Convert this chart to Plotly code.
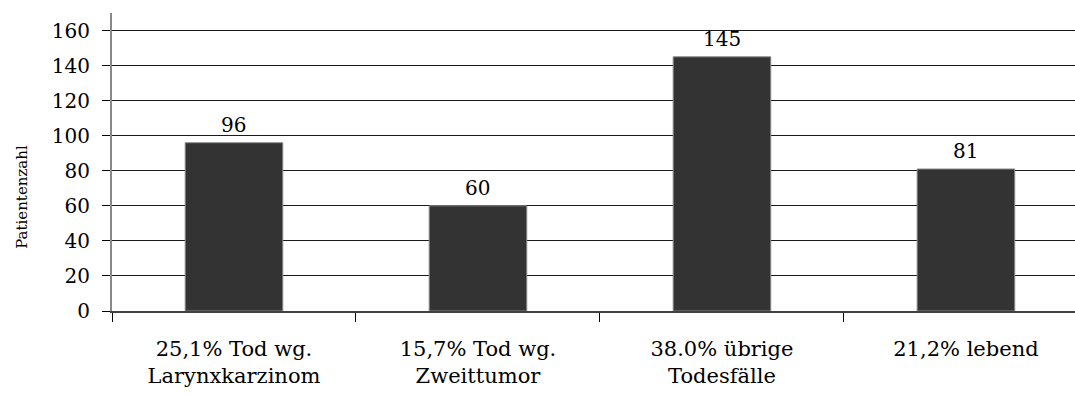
import plotly.graph_objects as go

# Patient outcome groups and counts
categories = [
    "25,1% Tod wg.<br>Larynxkarzinom",
    "15,7% Tod wg.<br>Zweittumor",
    "38.0% übrige<br>Todesfälle",
    "21,2% lebend",
]
counts = [96, 60, 145, 81]

y_ticks = [0, 20, 40, 60, 80, 100, 120, 140, 160]

FONT = "DejaVu Serif"

fig = go.Figure()
fig.add_trace(
    go.Bar(
        x=categories,
        y=counts,
        width=0.4,
        marker=dict(color="#333333", line=dict(color="#8a8a8a", width=1)),
        showlegend=False,
        hoverinfo="x+y",
    )
)

# Value labels above each bar
for cat, val in zip(categories, counts):
    fig.add_annotation(
        x=cat, y=val, text=str(val), showarrow=False,
        yanchor="middle", yshift=18,
        font=dict(family=FONT, size=20, color="#000000"),
    )

# Y-axis title
fig.add_annotation(
    xref="paper", yref="paper", x=0, y=0.383, xshift=-90,
    text="Patientenzahl", textangle=-90, showarrow=False,
    xanchor="center", yanchor="middle",
    font=dict(family=FONT, size=15, color="#000000"),
)

fig.update_layout(
    width=1075, height=396,
    margin=dict(l=112, r=0, t=13, b=85),
    paper_bgcolor="white", plot_bgcolor="white",
    font=dict(family=FONT, size=20, color="#000000"),
)

fig.update_xaxes(
    type="category",
    range=[-0.5, 3.447],
    tickson="boundaries",
    ticks="outside", ticklen=9, tickwidth=1, tickcolor="#000000",
    ticklabelstandoff=18,
    showgrid=False,
    showline=True, linecolor="#404040", linewidth=1.5,
    tickfont=dict(family=FONT, size=21, color="#000000"),
)

fig.update_yaxes(
    range=[0, 170],
    tickvals=y_ticks,
    ticks="outside", ticklen=8, tickwidth=1, tickcolor="#000000",
    ticklabelstandoff=8,
    showgrid=True, gridcolor="#1a1a1a", gridwidth=1,
    zeroline=False,
    showline=True, linecolor="#888888", linewidth=2,
    tickfont=dict(family=FONT, size=20, color="#000000"),
)

fig.write_html("out.html")
